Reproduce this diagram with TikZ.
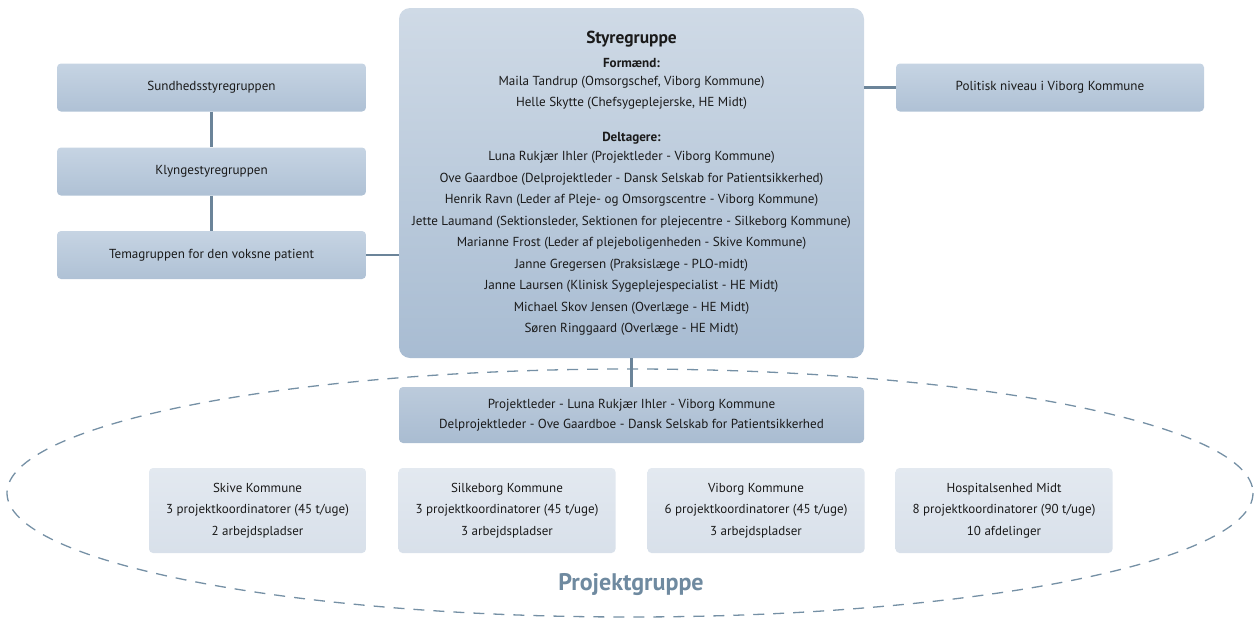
\documentclass[tikz,border=0pt]{standalone}
\usepackage{fontspec}
\setmainfont{PT Sans}
\definecolor{linec}{HTML}{6B8499}
\definecolor{dashc}{HTML}{7590A5}
\definecolor{txtc}{HTML}{1A1A1A}
\definecolor{titc}{HTML}{6F8AA0}
\definecolor{boxtop}{HTML}{C6D4E3}
\definecolor{boxbot}{HTML}{AFC1D5}
\definecolor{stytop}{HTML}{CFDAE6}
\definecolor{stybot}{HTML}{A8BCD2}
\definecolor{pltop}{HTML}{BCCBDC}
\definecolor{plbot}{HTML}{A9BCD1}
\definecolor{komtop}{HTML}{E3E9F0}
\definecolor{kombot}{HTML}{D8E0EA}
\tikzset{
  conn/.style={draw=linec, line width=2.6pt},
  topbox/.style={rounded corners=4pt, top color=boxtop, bottom color=boxbot, minimum width=309pt, minimum height=48pt, inner sep=0pt, text=txtc, font=\fontsize{13.1}{21.5}\selectfont, align=center},
  stybox/.style={rounded corners=11pt, top color=stytop, bottom color=stybot, minimum width=465pt, minimum height=350pt, inner sep=0pt, text=txtc, align=center, font=\fontsize{13.1}{21.5}\selectfont},
  plbox/.style={rounded corners=4pt, top color=pltop, bottom color=plbot, minimum width=465pt, minimum height=56pt, inner sep=0pt, text=txtc, font=\fontsize{13.1}{19.5}\selectfont, align=center},
  kombox/.style={rounded corners=4pt, top color=komtop, bottom color=kombot, minimum width=217pt, minimum height=85pt, inner sep=0pt, text=txtc, font=\fontsize{13}{21.5}\selectfont, align=center},
}
\begin{document}
\begin{tikzpicture}[x=1pt,y=-1pt]
\useasboundingbox (0,0) rectangle (1254,619);
% dashed ellipse
\draw[dashc, line width=1.3pt, dash pattern=on 11pt off 9pt] (630,493) ellipse [x radius=623, y radius=124];
% boxes
\node[stybox] (sty) at (631.5,183) {{\bfseries\fontsize{17.4}{21.5}\selectfont Styregruppe}\\[3pt]
\textbf{Formænd:}\\[-4pt]
Maila Tandrup (Omsorgschef, Viborg Kommune)\\
Helle Skytte (Chefsygeplejerske, HE Midt)\\[13.5pt]
\textbf{Deltagere:}\\[-2.5pt]
Luna Rukjær Ihler (Projektleder - Viborg Kommune)\\
Ove Gaardboe (Delprojektleder - Dansk Selskab for Patientsikkerhed)\\
Henrik Ravn (Leder af Pleje- og Omsorgscentre - Viborg Kommune)\\
Jette Laumand (Sektionsleder, Sektionen for plejecentre - Silkeborg Kommune)\\
Marianne Frost (Leder af plejeboligenheden - Skive Kommune)\\
Janne Gregersen (Praksislæge - PLO-midt)\\
Janne Laursen (Klinisk Sygeplejespecialist - HE Midt)\\
Michael Skov Jensen (Overlæge - HE Midt)\\
Søren Ringgaard (Overlæge - HE Midt)};
\node[topbox] (sund) at (211.5,87.5) {Sundhedsstyregruppen};
\node[topbox] (klyn) at (211.5,171.5) {Klyngestyregruppen};
\node[topbox] (tema) at (211.5,255) {Temagruppen for den voksne patient};
\node[topbox, minimum width=308pt] (pol) at (1050,87.5) {Politisk niveau i Viborg Kommune};
\node[plbox] (pl) at (631.5,415) {Projektleder - Luna Rukjær Ihler - Viborg Kommune\\Delprojektleder - Ove Gaardboe - Dansk Selskab for Patientsikkerhed};
\node[kombox] (skive) at (257.5,510.5) {Skive Kommune\\3 projektkoordinatorer (45 t/uge)\\2 arbejdspladser};
\node[kombox] (silk) at (507,510.5) {Silkeborg Kommune\\3 projektkoordinatorer (45 t/uge)\\3 arbejdspladser};
\node[kombox] (vib) at (756,510.5) {Viborg Kommune\\6 projektkoordinatorer (45 t/uge)\\3 arbejdspladser};
\node[kombox] (hosp) at (1004,510.5) {Hospitalsenhed Midt\\8 projektkoordinatorer (90 t/uge)\\10 afdelinger};
\node[text=titc, font=\bfseries\fontsize{24}{28}\selectfont] (pg) at (631,585) {Projektgruppe};
% connectors
\draw[conn] (sund.south) -- (klyn.north);
\draw[conn] (klyn.south) -- (tema.north);
\draw[conn] (tema.east) -- (tema.east -| sty.west);
\draw[conn] (pol.west) -- (pol.west -| sty.east);
\draw[conn] (sty.south) -- (pl.north);
\end{tikzpicture}
\end{document}
